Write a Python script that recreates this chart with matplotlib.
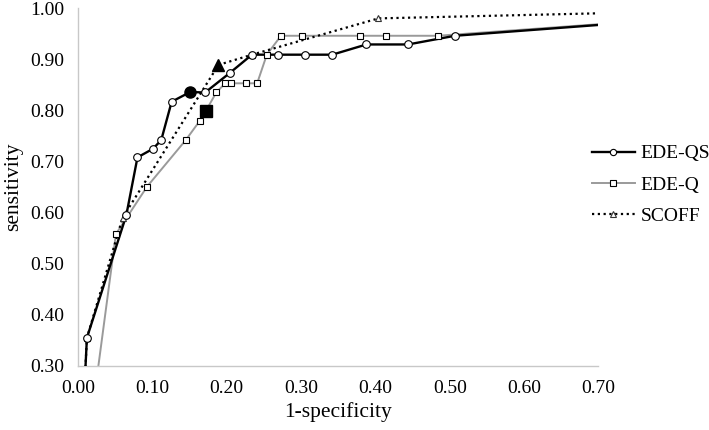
"""
ROC curves for EDE-QS, EDE-Q and SCOFF, redrawn with matplotlib
"""

import matplotlib
matplotlib.use("Agg")
import matplotlib.pyplot as plt

# ROC points (1-specificity, sensitivity)
qs_x = [0, 0.012, 0.065, 0.080, 0.101, 0.112, 0.126, 0.151, 0.171, 0.204,
        0.234, 0.269, 0.306, 0.342, 0.388, 0.444, 0.507, 1.0]
qs_y = [0, 0.355, 0.595, 0.708, 0.725, 0.742, 0.817, 0.836, 0.835, 0.873,
        0.909, 0.909, 0.909, 0.909, 0.929, 0.929, 0.946, 1.0]

q_x = [0, 0.051, 0.093, 0.145, 0.164, 0.172, 0.186, 0.198, 0.206, 0.226,
       0.241, 0.254, 0.273, 0.301, 0.379, 0.414, 0.484, 1.0]
q_y = [0, 0.558, 0.651, 0.742, 0.780, 0.799, 0.835, 0.853, 0.853, 0.853,
       0.853, 0.909, 0.946, 0.946, 0.946, 0.946, 0.946, 1.0]

s_x = [0, 0.012, 0.060, 0.189, 0.234, 0.404, 1.0]
s_y = [0, 0.355, 0.590, 0.889, 0.909, 0.980, 1.0]

# optimal cut-offs (filled markers)
opt_qs = (0.151, 0.836)
opt_q = (0.172, 0.799)
opt_s = (0.189, 0.889)

xticks = [0.0, 0.1, 0.2, 0.3, 0.4, 0.5, 0.6, 0.7]
yticks = [0.3, 0.4, 0.5, 0.6, 0.7, 0.8, 0.9, 1.0]

plt.rcParams['font.family'] = ['Liberation Serif', 'DejaVu Serif']

fig = plt.figure(figsize=(7.09, 4.30), dpi=100)
ax = fig.add_axes([0.110, 0.149, 0.734, 0.832])

gray = "#9a9a9a"
# lines first, markers on top (end points (0,0) and (1,1) have no marker)
ax.plot(q_x, q_y, color=gray, lw=1.4, zorder=2)
ax.plot(s_x, s_y, color="black", lw=1.6, ls=(0, (1, 1.6)), zorder=3)
ax.plot(qs_x, qs_y, color="black", lw=1.7, zorder=4)

ax.plot(q_x[1:-1], q_y[1:-1], ls="none", marker="s", ms=5, mfc="white",
        mec="black", mew=0.8, zorder=5)
ax.plot(s_x[1:-1], s_y[1:-1], ls="none", marker="^", ms=5, mfc="white",
        mec="#333333", mew=0.8, zorder=5)
ax.plot(qs_x[1:-1], qs_y[1:-1], ls="none", marker="o", ms=5.5, mfc="white",
        mec="black", mew=0.8, zorder=6)

ax.plot(*opt_qs, marker="o", ms=8, color="black", zorder=7)
ax.plot(*opt_q, marker="s", ms=8, color="black", zorder=7)
ax.plot(*opt_s, marker="^", ms=8.5, color="black", zorder=7)

# legend proxies
h_qs, = ax.plot([], [], color="black", lw=1.7, marker="o", ms=4.5,
                mfc="white", mec="black", mew=0.8)
h_q, = ax.plot([], [], color=gray, lw=1.4, marker="s", ms=4.5,
               mfc="white", mec="black", mew=0.8)
h_s, = ax.plot([], [], color="black", lw=1.6, ls=(0, (1, 1.6)), marker="^",
               ms=4.5, mfc="white", mec="#333333", mew=0.8)
fig.legend([h_qs, h_q, h_s], ["EDE-QS", "EDE-Q", "SCOFF"],
           loc="center left", bbox_to_anchor=(0.835, 0.57), frameon=False,
           fontsize=14, handlelength=2.2, handletextpad=0.3,
           labelspacing=0.7, borderpad=0, borderaxespad=0)

ax.set_xlim(0, 0.7)
ax.set_ylim(0.3, 1.0)
ax.set_xticks(xticks)
ax.set_yticks(yticks)
ax.set_xticklabels(["%.2f" % t for t in xticks])
ax.set_yticklabels(["%.2f" % t for t in yticks])
ax.tick_params(length=0, labelsize=14, pad=10)
for side in ["top", "right"]:
    ax.spines[side].set_visible(False)
for side in ["left", "bottom"]:
    ax.spines[side].set_color("#c8c8c8")
    ax.spines[side].set_linewidth(1.0)

ax.set_xlabel("1-specificity", fontsize=15.5, labelpad=4)
ax.set_ylabel("sensitivity", fontsize=15.5, labelpad=5)

plt.savefig("out.png", dpi=100)
